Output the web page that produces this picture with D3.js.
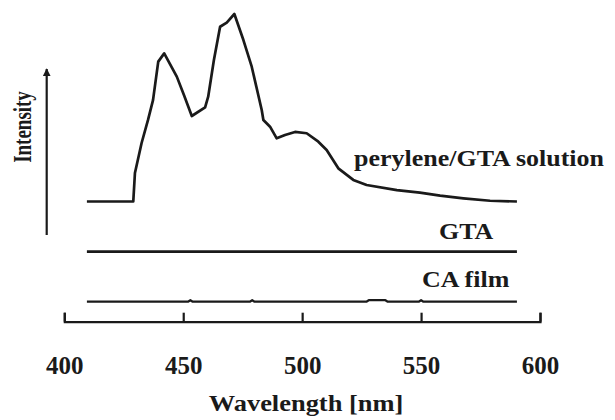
<!DOCTYPE html>
<html>
<head>
<meta charset="utf-8">
<script src="https://cdn.jsdelivr.net/npm/d3@7/dist/d3.min.js"></script>
<style>
  html, body { margin: 0; padding: 0; background: #fff; }
  text { font-family: "Liberation Serif", "DejaVu Serif", serif; font-weight: bold; fill: #1a1a1a; }
</style>
</head>
<body>
<div id="container"></div>
<script>
const WIDTH = 615;
const HEIGHT = 420;
const INK = '#1a1a1a';
const STRETCH = 1.13; // the original figure's text is a bit wide

// wavelength (nm) / relative intensity
const peryleneWl = [409.5, 429.0, 429.7, 432.5, 435.2, 437.3, 439.5, 442.0, 447.3, 450.3, 453.6,
                    459.2, 460.5, 462.9, 465.5, 468.3, 471.5, 475.3, 478.8, 483.0, 483.7, 486.5,
                    489.3, 492.8, 497.0, 501.9, 506.8, 510.3, 515.2, 521.5, 527.1, 539.8, 549.5,
                    558.0, 567.8, 579.0, 590.3];
const peryleneInt = [0, 0, 0.152, 0.312, 0.435, 0.541, 0.746, 0.790, 0.666, 0.568, 0.456,
                     0.502, 0.559, 0.755, 0.932, 0.954, 1.0, 0.861, 0.719, 0.488, 0.435, 0.399,
                     0.337, 0.355, 0.371, 0.364, 0.319, 0.275, 0.177, 0.115, 0.088, 0.061, 0.047,
                     0.031, 0.017, 0.004, 0];
const gtaWl = [409.5, 590.3];
const gtaInt = [0, 0];
const caWl = [409.5, 452, 453, 454, 478, 479, 480, 527, 528, 535, 536, 549, 550, 551, 590.3];
const caInt = [0, 0, 0.008, 0, 0, 0.008, 0, 0, 0.008, 0.008, 0, 0, 0.008, 0, 0];

const seriesNames = ['perylene/GTA solution', 'GTA', 'CA film'];
const xTicks = [400, 450, 500, 550, 600];
const xTitle = 'Wavelength [nm]';
const yTitle = 'Intensity';

// layout: where each trace sits and where its label goes
const BASELINES = [201.5, 251.7, 301.7];
const LABEL_POS = [[354, 166], [439, 238.5], [422, 286.5]];
const AXIS_Y = 321.7;

const series = [
  d3.zip(peryleneWl, peryleneInt),
  d3.zip(gtaWl, gtaInt),
  d3.zip(caWl, caInt)
];

const svg = d3.select('#container')
              .append('svg')
                .attr('width', WIDTH)
                .attr('height', HEIGHT);

const xscale = d3.scaleLinear()
                 .domain([400, 600])
                 .range([64.3, 540]);

const yscale = d3.scaleLinear()
                 .domain([0, 1])
                 .range([0, 187.5]);

const line = base => d3.line()
                       .x(d => xscale(d[0]))
                       .y(d => base - yscale(d[1]));

svg.selectAll('path.trace')
   .data(series)
   .enter()
   .append('path')
     .attr('class', 'trace')
     .attr('d', (d, i) => line(BASELINES[i])(d))
     .attr('fill', 'none')
     .attr('stroke', INK)
     .attr('stroke-width', (d, i) => i === 2 ? 2.2 : 2.7)
     .attr('stroke-linejoin', 'round');

svg.selectAll('text.label')
   .data(seriesNames)
   .enter()
   .append('text')
     .attr('class', 'label')
     .attr('transform', (d, i) => `translate(${LABEL_POS[i][0]}, ${LABEL_POS[i][1]}) scale(${STRETCH}, 1)`)
     .style('font-size', '23px')
     .text(d => d);

// x axis, ticks pointing up
const axis = d3.axisBottom(xscale)
               .tickValues(xTicks)
               .tickSize(-9)
               .tickSizeOuter(-9)
               .tickFormat(d3.format('d'));

const gx = svg.append('g')
              .attr('transform', `translate(0, ${AXIS_Y})`)
              .call(axis);

gx.select('.domain').attr('stroke', INK).attr('stroke-width', 2.2);
gx.selectAll('.tick line').attr('stroke', INK).attr('stroke-width', 2.2);
gx.selectAll('.tick text')
  .attr('y', 52.5)
  .attr('dy', 0)
  .attr('fill', INK)
  .style('font-family', '"Liberation Serif", serif')
  .style('font-weight', 'bold')
  .style('font-size', '25px');

svg.append('text')
   .attr('text-anchor', 'middle')
   .attr('transform', `translate(306, 411) scale(1.15, 1)`)
   .style('font-size', '23px')
   .text(xTitle);

// intensity arrow
svg.append('defs')
   .append('marker')
     .attr('id', 'arrow')
     .attr('viewBox', '0 0 10 10')
     .attr('refX', 9)
     .attr('refY', 5)
     .attr('markerWidth', 3.5)
     .attr('markerHeight', 3.5)
     .attr('markerUnits', 'strokeWidth')
     .attr('orient', 'auto')
   .append('path')
     .attr('d', 'M0,0 L10,5 L0,10 z')
     .attr('fill', INK);

svg.append('line')
   .attr('x1', 46.7)
   .attr('x2', 46.7)
   .attr('y1', 235)
   .attr('y2', 69)
   .attr('stroke', INK)
   .attr('stroke-width', 2.2)
   .attr('marker-end', 'url(#arrow)');

svg.append('text')
   .attr('text-anchor', 'middle')
   .attr('transform', `translate(31, 127) scale(1.3, 1) rotate(-90)`)
   .style('font-size', '19px')
   .text(yTitle);
</script>
</body>
</html>
